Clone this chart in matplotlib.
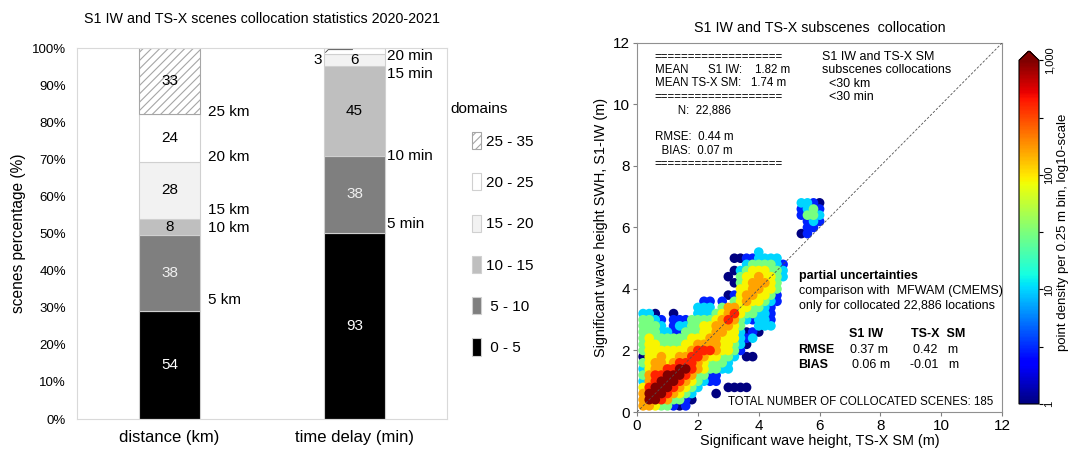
import numpy as np
import matplotlib
matplotlib.use("Agg")
import matplotlib.pyplot as plt
from matplotlib.colors import LogNorm

plt.rcParams["font.family"] = ["Liberation Sans", "DejaVu Sans"]
plt.rcParams["hatch.linewidth"] = 0.8

# ---- left panel: number of scenes per domain (bottom -> top of the stack)
domains = ["0 - 5", "5 - 10", "10 - 15", "15 - 20", "20 - 25", "25 - 35"]
distance_counts = [54, 38, 8, 28, 24, 33]
delay_counts = [93, 38, 45, 6, 3, 0]
bar_names = ["distance (km)", "time delay (min)"]
distance_marks = ["5 km", "10 km", "15 km", "20 km", "25 km"]
delay_marks = ["5 min", "10 min", "15 min", "20 min"]

# ---- right panel: density level of each 0.2 m cell
# rows from y = 6.8 m down to 0.2 m, (first column, levels); "." = empty cell
bin_step = 0.2
density_rows = [
    (26, "3321"),
    (26, "2342"),
    (26, "2443"),
    (27, "232"),
    (27, "22"),
    (26, "12"),
    (0, ""),
    (0, ""),
    (19, "3"),
    (15, "11223333"),
    (17, "3444432"),
    (15, "134555443"),
    (14, "1.45565543"),
    (15, "14566654"),
    (16, "5566554"),
    (14, "125665542"),
    (10, "22.2.45655432"),
    (9, "333.466554432"),
    (0, "331..1...3334567544332"),
    (0, "4432.22244445676432332"),
    (0, "4443.233445566654..333"),
    (0, "44433224445566553121"),
    (0, "4544444455566555323"),
    (0, "455444455666655431"),
    (0, "45555555677765542"),
    (0, "1556556677655443.11"),
    (0, "456656777654443"),
    (0, "356677887654433"),
    (0, "4677888764422"),
    (0, "3678887654322"),
    (0, "5788876543....1111"),
    (0, "688876543...1"),
    (0, "688764421"),
    (0, "66544212"),
]
level_counts = [1, 3, 10, 30, 90, 160, 420, 1200]


def main():
    fig = plt.figure(figsize=(10.77, 4.49), dpi=100)

    # ================= left: stacked bars =================
    ax1 = fig.add_axes([0.0715, 0.0668, 0.3435, 0.826])
    seg_colors = ["#000000", "#7f7f7f", "#bfbfbf", "#f2f2f2", "#ffffff", "#ffffff"]
    seg_edges = ["#d0d0d0"] * 5 + ["#a6a6a6"]
    seg_hatches = [None] * 5 + ["////"]
    seg_text = ["white", "#f0f0f0", "black", "black", "black", "black"]
    width = 0.33

    x_pos = np.arange(len(bar_names))
    series = [np.array(distance_counts), np.array(delay_counts)]
    pcts = [s / s.sum() * 100 for s in series]
    bottoms = np.zeros(2)
    for i, name in enumerate(domains):
        heights = np.array([p[i] for p in pcts])
        ax1.bar(x_pos, heights, width=width, bottom=bottoms, color=seg_colors[i],
                edgecolor=seg_edges[i], linewidth=0.8, hatch=seg_hatches[i], label=name)
        for j in range(2):
            cnt = series[j][i]
            if cnt == 0:
                continue
            mid = bottoms[j] + heights[j] / 2
            if heights[j] < 2:
                ax1.annotate(str(cnt), xy=(x_pos[j] - 0.01, mid + 0.4),
                             xytext=(x_pos[j] - 0.2, mid - 2.5),
                             ha="center", va="center", fontsize=11,
                             arrowprops=dict(arrowstyle="-", color="#404040", lw=0.6,
                                             shrinkA=1, shrinkB=0,
                                             connectionstyle="angle,angleA=45,angleB=0,rad=0"))
            else:
                ax1.text(x_pos[j], mid, str(cnt), ha="center", va="center",
                         color=seg_text[i], fontsize=11)
        bottoms += heights

    # boundary labels beside the bars
    mark_offsets = [[2.9, 1.7, 2.2, 1.5, 0.5], [2.2, 0.0, -2.1, -0.5]]
    mark_gaps = [0.045, 0.01]
    for j, marks in enumerate([distance_marks, delay_marks]):
        edges = np.cumsum(pcts[j])[:len(marks)]
        for lab, e, off in zip(marks, edges, mark_offsets[j]):
            ax1.text(x_pos[j] + width / 2 + mark_gaps[j], e + off, lab,
                     ha="left", va="center", fontsize=11)

    ax1.set_xlim(-0.5, 1.5)
    ax1.set_ylim(0, 100)
    ax1.set_yticks(np.arange(0, 101, 10))
    ax1.set_yticklabels([f"{v}%" for v in range(0, 101, 10)], fontsize=9.5)
    ax1.set_xticks(x_pos)
    ax1.set_xticklabels(bar_names, fontsize=12)
    ax1.tick_params(axis="y", length=0, pad=8)
    ax1.tick_params(axis="x", length=0, pad=8)
    for sp in ax1.spines.values():
        sp.set_color("#d9d9d9")
    ax1.set_ylabel("scenes percentage (%)", fontsize=11.2, labelpad=4)
    ax1.set_title("S1 IW and TS-X scenes collocation statistics 2020-2021",
                  fontsize=10.3, pad=18)

    handles, labels = ax1.get_legend_handles_labels()
    leg_labels = [lab if len(lab.split()[0]) == 2 else " " + lab for lab in labels]
    fig.text(450 / 1077, 1 - 109 / 449, "domains", fontsize=11, va="center", ha="left")
    fig.legend(handles[::-1], leg_labels[::-1], loc="upper left",
               bbox_to_anchor=(472 / 1077, 1 - 132 / 449), frameon=False,
               fontsize=11, handlelength=0.6, handleheight=1.35, handletextpad=0.3,
               labelspacing=1.58, borderpad=0, borderaxespad=0)

    # ================= right: density scatter =================
    ax2 = fig.add_axes([0.5915, 0.0824, 0.339, 0.822])
    xs, ys, cs = [], [], []
    n_rows = len(density_rows)
    for r, (start, levels) in enumerate(density_rows):
        y = (n_rows - r) * bin_step
        for k, ch in enumerate(levels):
            if ch == ".":
                continue
            xs.append((start + k + 1) * bin_step)
            ys.append(y)
            cs.append(level_counts[int(ch) - 1])
    xs, ys, cs = np.array(xs), np.array(ys), np.array(cs)
    order = np.argsort(cs, kind="stable")
    norm = LogNorm(vmin=1, vmax=1000)
    sc = ax2.scatter(xs[order], ys[order], c=cs[order], cmap="jet", norm=norm,
                     s=48, marker="o", linewidths=0, zorder=2)

    lim = 12
    ax2.plot([0, lim], [0, lim], color="#505050", lw=0.6, ls=(0, (3, 2)), zorder=3)
    ax2.set_xlim(0, lim)
    ax2.set_ylim(0, lim)
    ax2.set_xticks(range(0, lim + 1, 2))
    ax2.set_yticks(range(0, lim + 1, 2))
    ax2.tick_params(labelsize=11, length=3, color="#808080", pad=2)
    for sp in ax2.spines.values():
        sp.set_color("#909090")
    ax2.set_xlabel("Significant wave height, TS-X SM (m)", fontsize=10.4, labelpad=1)
    ax2.set_ylabel("Significant wave height SWH, S1-IW (m)", fontsize=10.4, labelpad=4)
    ax2.set_title("S1 IW and TS-X subscenes  collocation", fontsize=10.3, pad=8)

    stats_block = ("===================\n"
                   "MEAN      S1 IW:    1.82 m\n"
                   "MEAN TS-X SM:   1.74 m\n"
                   "===================\n"
                   "       N:  22,886\n"
                   "\n"
                   "RMSE:  0.44 m\n"
                   "  BIAS:  0.07 m\n"
                   "===================")
    ax2.text(0.58, 11.75, stats_block, fontsize=8.3, ha="left", va="top", linespacing=1.16)
    ax2.text(6.07, 11.75, "S1 IW and TS-X SM\nsubscenes collocations\n  <30 km\n  <30 min",
             fontsize=9, ha="left", va="top", linespacing=1.18)

    ax2.text(5.31, 4.42, "partial uncertainties", fontsize=9, fontweight="bold", va="center")
    ax2.text(5.31, 3.93, "comparison with  MFWAM (CMEMS)", fontsize=9, va="center")
    ax2.text(5.31, 3.45, "only for collocated 22,886 locations", fontsize=9, va="center")
    ax2.text(6.95, 2.52, "S1 IW", fontsize=9, fontweight="bold", va="center")
    ax2.text(9.0, 2.52, "TS-X  SM", fontsize=9, fontweight="bold", va="center")
    ax2.text(5.31, 2.02, "RMSE", fontsize=9, fontweight="bold", va="center")
    ax2.text(7.0, 2.02, "0.37 m", fontsize=9, va="center")
    ax2.text(9.06, 2.02, "0.42   m", fontsize=9, va="center")
    ax2.text(5.31, 1.53, "BIAS", fontsize=9, fontweight="bold", va="center")
    ax2.text(7.05, 1.53, "0.06 m", fontsize=9, va="center")
    ax2.text(8.96, 1.53, "-0.01   m", fontsize=9, va="center")
    ax2.text(11.72, 0.31, "TOTAL NUMBER OF COLLOCATED SCENES: 185", fontsize=8.3,
             ha="right", va="center")

    cax = fig.add_axes([1019 / 1077, 1 - 404 / 449, 20 / 1077, 353 / 449])
    cb = fig.colorbar(sc, cax=cax, extend="max", extendfrac=0.027)
    ticks = [1, 10 ** 0.5, 10, 10 ** 1.5, 100, 10 ** 2.5, 1000]
    cb.set_ticks(ticks)
    cb.set_ticklabels(["1", "", "10", "", "100", "", "1,000"])
    cb.ax.minorticks_off()
    cb.ax.tick_params(labelsize=8, length=3, pad=1)
    for t in cb.ax.get_yticklabels():
        t.set_rotation(90)
        t.set_va("center")
    cb.set_label("point density per 0.25 m bin, log10-scale", fontsize=9.5, labelpad=2)

    fig.savefig("out.png", dpi=100)


if __name__ == "__main__":
    main()
